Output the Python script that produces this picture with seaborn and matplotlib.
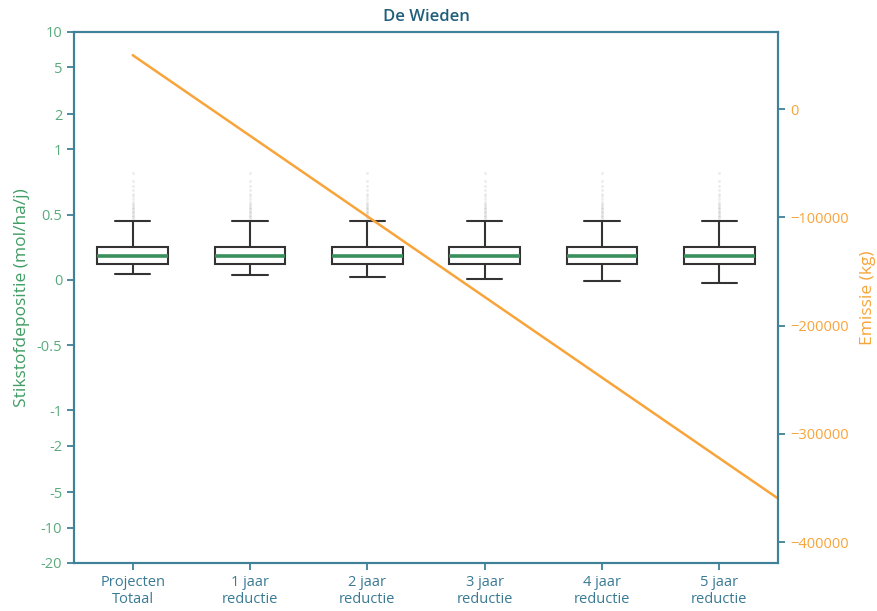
import numpy as np
import pandas as pd
import matplotlib
matplotlib.use("Agg")
import matplotlib.pyplot as plt
import seaborn as sns

# ---- data ----
categories = ["Projecten\nTotaal", "1 jaar\nreductie", "2 jaar\nreductie",
              "3 jaar\nreductie", "4 jaar\nreductie", "5 jaar\nreductie"]
whisker_low = [0.044, 0.036, 0.023, 0.010, -0.008, -0.023]
q1 = [0.125, 0.125, 0.125, 0.125, 0.125, 0.125]
median = [0.186, 0.186, 0.186, 0.186, 0.186, 0.186]
q3 = [0.255, 0.255, 0.255, 0.255, 0.255, 0.255]
whisker_high = [0.454, 0.454, 0.454, 0.454, 0.454, 0.454]
outliers = [0.47, 0.48, 0.49, 0.50, 0.51, 0.52, 0.53, 0.54, 0.55, 0.56,
            0.57, 0.58, 0.60, 0.62, 0.64, 0.66, 0.69, 0.72, 0.76, 0.82]

emissie_pos = [0, 1, 2, 3, 4, 5, 6]
emissie = [50000, -24500, -99000, -173500, -248000, -322500, -397000]

left_ticks = [-20, -10, -5, -2, -1, -0.5, 0, 0.5, 1, 2, 5, 10]
left_labels = ["-20", "-10", "-5", "-2", "-1", "-0.5", "0", "0.5", "1", "2", "5", "10"]
right_ticks = [0, -100000, -200000, -300000, -400000]

# ---- style ----
sns.set_style("white")
plt.rcParams["font.family"] = ["Open Sans", "DejaVu Sans"]

SPINE = "#3f8199"
GREEN_TXT = "#5aab7b"
GREEN_LBL = "#3f9d63"
ORANGE = "#f8a43a"
XTXT = "#3a7a94"
TITLE = "#1f5f7a"

box_rows = []
for i, c in enumerate(categories):
    for v in (whisker_low[i], q1[i], median[i], q3[i], whisker_high[i]):
        box_rows.append({"cat": c, "val": v})
box_df = pd.DataFrame(box_rows)
out_df = pd.DataFrame([{"cat": c, "val": v} for c in categories for v in outliers])

fig = plt.figure(figsize=(8.78, 6.11), dpi=100)
ax = fig.add_axes([74 / 878, 1 - 563 / 611, (778 - 74) / 878, (563 - 32) / 611])

ax.set_yscale("symlog", linthresh=1, linscale=1)

sns.stripplot(data=out_df, x="cat", y="val", order=categories, jitter=False,
              size=2, color="#888888", alpha=0.16, ax=ax, zorder=1)
sns.boxplot(data=box_df, x="cat", y="val", order=categories, width=0.6,
            whis=(0, 100), showfliers=False, color="white", linecolor="#333333",
            linewidth=1.5,
            medianprops={"color": "#3a8f5c", "linewidth": 2.6},
            ax=ax, zorder=2)

ax.set_ylim(-20, 10)
ax.set_yticks(left_ticks)
ax.set_yticklabels(left_labels)
ax.yaxis.set_minor_locator(matplotlib.ticker.NullLocator())
ax.set_xlabel("")
ax.set_ylabel("Stikstofdepositie (mol/ha/j)", color=GREEN_LBL, fontsize=12.5, labelpad=5)
ax.tick_params(axis="y", colors=SPINE, labelcolor=GREEN_TXT, labelsize=10.5,
               length=5, width=1.3, left=True)
ax.tick_params(axis="x", colors=SPINE, labelcolor=XTXT, labelsize=10.5,
               length=5, width=1.3, bottom=True)
ax.set_title("De Wieden", color=TITLE, fontsize=12, fontweight="semibold", pad=8)

ax2 = ax.twinx()
sns.lineplot(x=emissie_pos, y=emissie, ax=ax2, color=ORANGE, linewidth=1.8)
ax2.set_ylim(-419400, 71400)
ax2.set_yticks(right_ticks)
ax2.set_ylabel("Emissie (kg)", color=ORANGE, fontsize=12.5, labelpad=8)
ax2.tick_params(axis="y", colors=SPINE, labelcolor=ORANGE, labelsize=10.5,
                length=5, width=1.3, right=True)

ax.set_xlim(-0.5, 5.5)
ax2.set_xlim(-0.5, 5.5)

for a in (ax, ax2):
    for s in a.spines.values():
        s.set_color(SPINE)
        s.set_linewidth(1.5)
        s.set_visible(True)

fig.savefig("out.png", dpi=100)
